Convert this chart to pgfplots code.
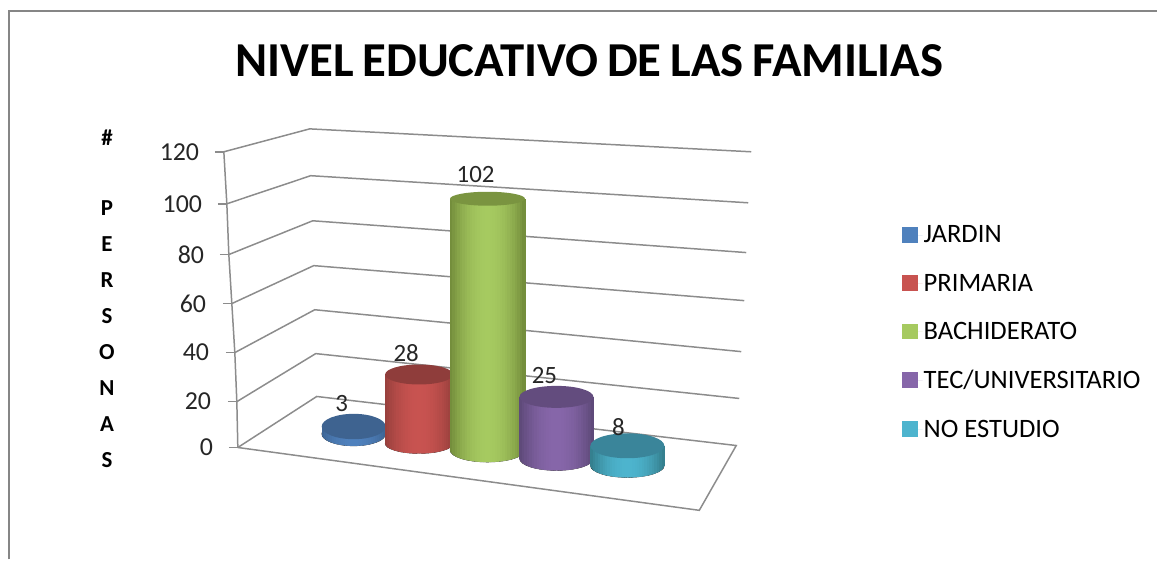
\documentclass[border=0pt]{standalone}
\usepackage{pgfplots}
\pgfplotsset{compat=1.18}
\usepackage{fontspec}
\setmainfont{Carlito}
\pgfplotsset{/pgf/number format/assume math mode=true}
\definecolor{gridc}{HTML}{8C8C8C}
\definecolor{framec}{HTML}{868686}
\definecolor{cJ}{HTML}{4F81BD}\definecolor{cJe}{HTML}{3F6797}\definecolor{cJt}{HTML}{3E6390}
\definecolor{cP}{HTML}{C85350}\definecolor{cPe}{HTML}{99403D}\definecolor{cPt}{HTML}{8F3D3B}
\definecolor{cB}{HTML}{A6CA60}\definecolor{cBe}{HTML}{748E3C}\definecolor{cBt}{HTML}{7A9440}
\definecolor{cT}{HTML}{8666A9}\definecolor{cTe}{HTML}{5F4A7A}\definecolor{cTt}{HTML}{634C7E}
\definecolor{cN}{HTML}{4DB4CE}\definecolor{cNe}{HTML}{35808F}\definecolor{cNt}{HTML}{3A859A}
% vertical strips, lighter in the middle: name, rx, y top, y bottom
\newcommand\strips[4]{%
  \foreach \i in {0,...,29}{%
    \pgfmathsetmacro\xa{-#2+\i*#2/15}%
    \pgfmathsetmacro\xb{min(\xa+#2/15+0.4,#2)}%
    \pgfmathsetmacro\p{100*(1-(abs(\i-14.5)/14.5)^2)}%
    \fill[c#1!\p!c#1e] (\xa bp,#3bp) rectangle (\xb bp,#4bp);
  }%
}
% name, rx, ry top, ry bottom, height in bp (value x 2.467)
\newcommand\defcyl[5]{%
  \pgfdeclareplotmark{#1top}{\path[draw=none,fill=c#1t] (0pt,0pt) ellipse [x radius=#2bp,y radius=#3bp];}%
  \pgfdeclareplotmark{#1bot}{\begin{scope}\clip (0pt,0pt) ellipse [x radius=#2bp,y radius=#4bp];\strips{#1}{#2}{#4}{-#4}\end{scope}}%
  \pgfdeclareplotmark{#1body}{\strips{#1}{#2}{0}{-#5}}%
}
\defcyl{J}{32}{12.7}{12}{7.40}
\defcyl{P}{34}{10}{10}{69.08}
\defcyl{B}{37.5}{7}{12}{251.63}
\defcyl{T}{37}{11}{12}{61.68}
\defcyl{N}{37}{12.5}{12}{19.74}
% name, centre x, value, shift, label dx, label dy
\newcommand\cyl[6]{%
  \addplot[forget plot,only marks,mark=#1bot,yshift=#4bp] coordinates {(#2,0)};
  \addplot[forget plot,only marks,mark=#1body,yshift=#4bp] coordinates {(#2,#3)};
  \addplot[forget plot,only marks,mark=#1top,yshift=#4bp,nodes near coords,
    every node near coord/.append style={anchor=center,font=\fontsize{25}{25}\selectfont,
    text=black!85,xshift=#5bp,yshift=#6bp}] coordinates {(#2,#3)};
}
\begin{document}
\begin{tikzpicture}
\begin{axis}[
  at={(0,0)},anchor=south west,
  width=1158bp,height=560bp,scale only axis,
  xmin=0,xmax=1158,ymin=-45.4,ymax=181.6,
  clip=false,
  axis x line=none,
  axis y line*=left,
  y axis line style={draw=none},
  major tick length=0pt,
  ytick={0,18.6,38.5,58.4,78.3,98.9,120},
  yticklabels={{0},{20\hspace{2pt}\null},{40\hspace{4pt}\null},{60\hspace{7pt}\null},{80\hspace{9pt}\null},{100\hspace{11pt}\null},{120\hspace{14pt}\null}},
  yticklabel style={anchor=east,xshift=217.5pt,font=\fontsize{26}{26}\selectfont,text=black!85},
  title={\spaceskip=.18em\relax NIVEL EDUCATIVO DE LAS FAMILIAS},
  title style={at={(axis cs:590,154.5)},anchor=center,yshift=0pt,font=\bfseries\fontsize{49}{49}\selectfont},
  ylabel={\#\\[-2pt] \\ P\\E\\R\\S\\O\\N\\A\\S},
  ylabel style={at={(axis cs:107,60.4)},anchor=center,rotate=-90,align=center,
    font=\bfseries\fontsize{23}{36.2}\selectfont},
  legend style={at={(axis cs:902.5,90.4)},anchor=north west,draw=none,fill=none,
    font=\fontsize{26.7}{26.7}\selectfont,row sep=27.7pt,inner sep=0pt,
    nodes={inner sep=1pt}},
  legend cell align=left,
]
% frame of the chart
\addplot[forget plot,framec,line width=2.5pt] coordinates {(9,-45.4) (9,177.2) (1158,177.2)};
% walls and floor
\addplot[forget plot,gridc,line width=1.5pt] coordinates {(224,120) (310,129.3) (752,120)};
\addplot[forget plot,gridc,line width=1.5pt] coordinates {(227,98.9) (311,110.3) (749,99.3)};
\addplot[forget plot,gridc,line width=1.5pt] coordinates {(229,78.3) (313,92.0) (747,79.1)};
\addplot[forget plot,gridc,line width=1.5pt] coordinates {(232,58.4) (314,73.8) (745,59.6)};
\addplot[forget plot,gridc,line width=1.5pt] coordinates {(235,38.5) (315,55.9) (742,38.9)};
\addplot[forget plot,gridc,line width=1.5pt] coordinates {(237,18.6) (316,38.1) (740,19.9)};
\addplot[forget plot,gridc,line width=1.5pt] coordinates {(238,0) (317,20.7) (737,0.8) (700,-25.5) (238,0)};
\addplot[forget plot,gridc,line width=1.5pt] coordinates {(224,120) (227,98.9) (229,78.3) (232,58.4) (235,38.5) (237,18.6) (238,0)};
\addplot[forget plot,gridc,line width=1.5pt] coordinates {(215,120) (224,120)};
\addplot[forget plot,gridc,line width=1.5pt] coordinates {(218,98.9) (227,98.9)};
\addplot[forget plot,gridc,line width=1.5pt] coordinates {(220,78.3) (229,78.3)};
\addplot[forget plot,gridc,line width=1.5pt] coordinates {(223,58.4) (232,58.4)};
\addplot[forget plot,gridc,line width=1.5pt] coordinates {(226,38.5) (235,38.5)};
\addplot[forget plot,gridc,line width=1.5pt] coordinates {(228,18.6) (237,18.6)};
\addplot[forget plot,gridc,line width=1.5pt] coordinates {(229,0) (238,0)};
% cylinders
\cyl{J}{354}{3}{13.6}{-12}{23}
\cyl{P}{419.5}{28}{4}{-13}{21}
\cyl{B}{488}{102}{-2.6}{-12}{24}
\cyl{T}{557}{25}{-11}{-12}{21}
\cyl{N}{628}{8}{-18}{-9}{19}
% legend
\pgfplotsset{legend image code/.code={\fill[#1] (0pt,-8pt) rectangle (16pt,8pt);\path (0pt,0pt) -- (21pt,0pt);}}
\addlegendimage{fill=cJ,draw=none}\addlegendentry{JARDIN}
\addlegendimage{fill=cP,draw=none}\addlegendentry{PRIMARIA}
\addlegendimage{fill=cB,draw=none}\addlegendentry{BACHIDERATO}
\addlegendimage{fill=cT,draw=none}\addlegendentry{TEC/UNIVERSITARIO}
\addlegendimage{fill=cN,draw=none}\addlegendentry{NO ESTUDIO}
\end{axis}
\end{tikzpicture}
\end{document}
